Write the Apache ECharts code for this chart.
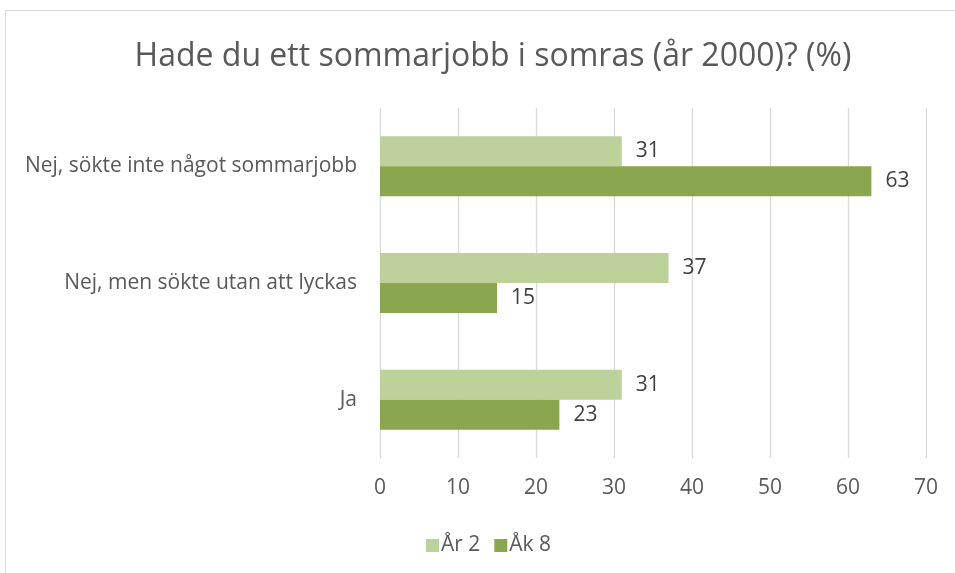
<!DOCTYPE html>
<html>
<head>
<meta charset="utf-8">
<script src="https://cdn.jsdelivr.net/npm/echarts@6/dist/echarts.min.js"></script>
<style>
  html, body { margin: 0; padding: 0; background: #fff; }
  #frame { position: absolute; left: 5px; top: 10px; width: 960px; height: 580px; border: 1px solid #d9d9d9; box-sizing: border-box; }
  #chart { position: absolute; left: 0; top: 0; width: 955px; height: 573px; }
</style>
</head>
<body>
<div id="frame"></div>
<div id="chart"></div>
<script>
// Survey answers, listed bottom to top as the category axis draws them
const categories = ['Ja', 'Nej, men sökte utan att lyckas', 'Nej, sökte inte något sommarjobb'];
const seriesNames = ['År 2', 'Åk 8'];
const ar2Values = [31, 37, 31];
const ak8Values = [23, 15, 63];
const valueTicks = [0, 10, 20, 30, 40, 50, 60, 70];

const textColor = '#595959';
const fontFamily = '"Open Sans", "Noto Sans", sans-serif';

const chart = echarts.init(document.getElementById('chart'), null, { renderer: 'canvas' });

const labelStyle = {
  show: true,
  position: 'right',
  distance: 14,
  color: '#404040',
  fontSize: 21,
  fontFamily: fontFamily
};

chart.setOption({
  animation: false,
  title: {
    text: 'Hade du ett sommarjobb i somras (år 2000)? (%)',
    left: 488,
    textAlign: 'center',
    top: 36,
    textStyle: { color: textColor, fontSize: 32, fontWeight: 'normal', fontFamily: fontFamily }
  },
  legend: {
    data: seriesNames,
    top: 530,
    left: 421,
    itemWidth: 13,
    itemHeight: 13,
    itemGap: 14,
    icon: 'rect',
    textStyle: { color: textColor, fontSize: 21, fontFamily: fontFamily, padding: [0, 0, 0, -3] }
  },
  grid: { left: 380, right: 29, top: 108, bottom: 115, containLabel: false },
  xAxis: {
    type: 'value',
    min: valueTicks[0],
    max: valueTicks[valueTicks.length - 1],
    interval: 10,
    axisLine: { show: false },
    axisTick: { show: false },
    splitLine: { show: true, lineStyle: { color: '#d9d9d9', width: 1.3 } },
    axisLabel: { color: textColor, fontSize: 21, fontFamily: fontFamily, margin: 20 }
  },
  yAxis: {
    type: 'category',
    data: categories,
    axisLine: { show: false },
    axisTick: { show: false },
    axisLabel: { color: textColor, fontSize: 21, fontFamily: fontFamily, margin: 23 }
  },
  series: [
    {
      name: seriesNames[0],
      type: 'bar',
      data: ar2Values,
      barWidth: 30,
      barGap: '0%',
      barCategoryGap: '49%',
      itemStyle: { color: '#bdd19b' },
      label: labelStyle
    },
    {
      name: seriesNames[1],
      type: 'bar',
      data: ak8Values,
      barWidth: 30,
      barGap: '0%',
      itemStyle: { color: '#8aa64f' },
      label: labelStyle
    }
  ]
});
</script>
</body>
</html>
